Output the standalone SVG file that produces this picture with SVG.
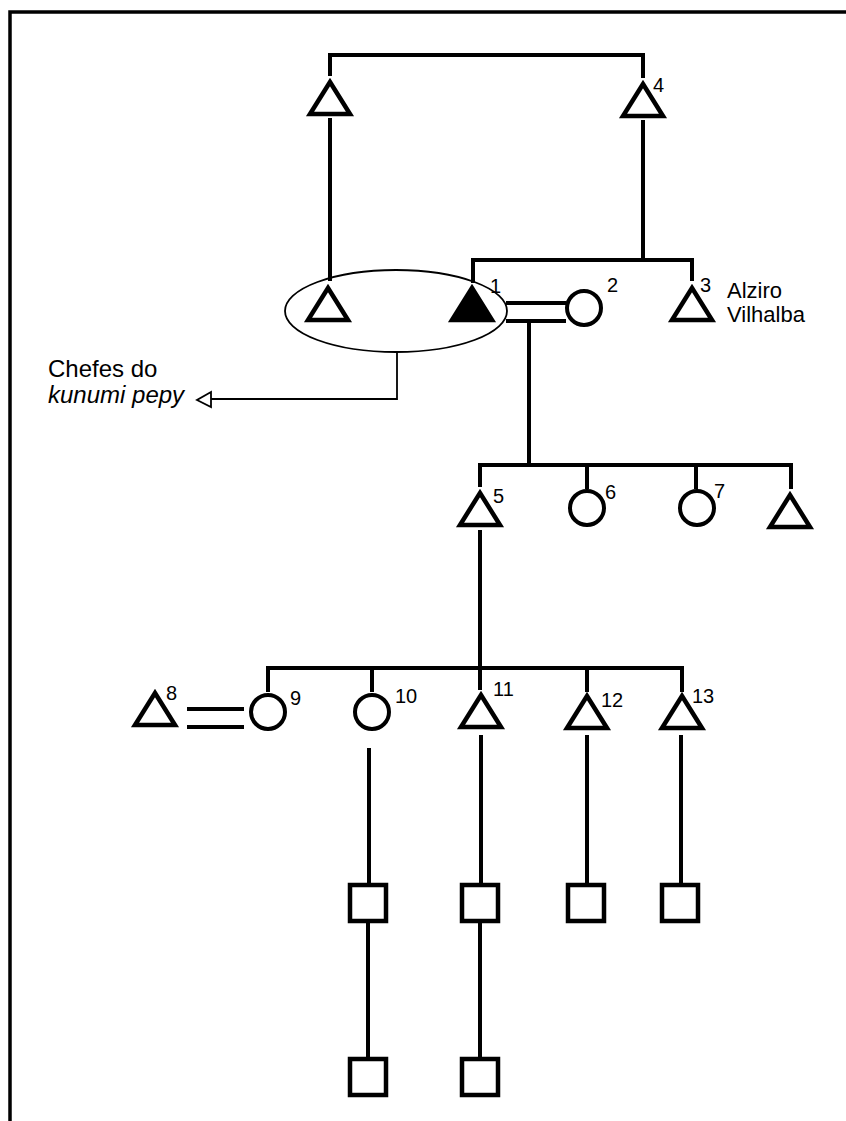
<svg xmlns="http://www.w3.org/2000/svg" width="846" height="1121" viewBox="0 0 846 1121">
<defs>
<style>
.ln{stroke:#000;stroke-width:4;fill:none}
.thin{stroke:#000;stroke-width:1.8;fill:none}
.tri{stroke:#000;stroke-width:4.5;fill:#fff;stroke-linejoin:miter}
.ftri{stroke:#000;stroke-width:4.5;fill:#000;stroke-linejoin:miter}
.cir{stroke:#000;stroke-width:4;fill:#fff}
.sq{stroke:#000;stroke-width:4.5;fill:#fff}
.num{font-family:"Liberation Sans",Arial,sans-serif;font-size:20px;fill:#000}
.lbl{font-family:"Liberation Sans",Arial,sans-serif;font-size:22px;fill:#000}
.lbl2{font-family:"Liberation Sans",Arial,sans-serif;font-size:24px;fill:#000}
</style>
<path id="t" d="M0,-18 L20,14 L-20,14 Z"/>
</defs>
<rect width="846" height="1121" fill="#fff"/>
<path d="M10,1121 V12 H846" stroke="#000" stroke-width="3.5" fill="none"/>
<g id="connectors">
<path class="ln" d="M330,76 V55 H643 V78"/>
<path class="ln" d="M330,118 V281"/>
<path class="ln" d="M643,120 V260"/>
<path class="ln" d="M473,283 V260 H692 V281"/>
<path class="ln" d="M506,303 H566 M506,321 H566"/>
<path class="ln" d="M529,321 V465"/>
<path class="ln" d="M480,487 V465 H791 V489 M587,465 V489 M696,465 V489"/>
<path class="ln" d="M480,530 V690"/>
<path class="ln" d="M268,692 V668 H682 V692 M372,668 V692 M587,668 V692"/>
<path class="ln" d="M187,709 H244 M187,727 H244"/>
<path class="ln" d="M369,748 V885 M481,735 V885 M587,735 V885 M681,735 V885"/>
<path class="ln" d="M368,921 V1059 M480,921 V1059"/>
<path class="thin" d="M397,352 V399 H211"/>
<polygon class="thin" stroke-width="2" points="211,392 197,400 211,407"/>
</g>
<g id="group-chiefs">
<ellipse class="thin" cx="396" cy="311" rx="111" ry="41"/>
</g>
<g id="n-top-left"><use href="#t" class="tri" x="330" y="100"/></g>
<g id="n4"><use href="#t" class="tri" x="643" y="102"/><text class="num" x="653" y="92">4</text></g>
<g id="n-chief"><use href="#t" class="tri" x="328" y="306"/></g>
<g id="n1"><use href="#t" class="ftri" x="472" y="306"/><text class="num" x="490" y="293">1</text></g>
<g id="n2"><circle class="cir" cx="584" cy="308" r="17"/><text class="num" x="607" y="292">2</text></g>
<g id="n3"><use href="#t" class="tri" x="692" y="306"/><text class="num" x="700" y="292">3</text>
<text class="lbl" x="727" y="298">Alziro</text><text class="lbl" x="727" y="322">Vilhalba</text></g>
<g id="label-chefes"><text class="lbl2" x="48" y="377">Chefes do</text><text class="lbl2" x="48" y="403" font-style="italic">kunumi pepy</text></g>
<g id="n5"><use href="#t" class="tri" x="480" y="511"/><text class="num" x="493" y="503">5</text></g>
<g id="n6"><circle class="cir" cx="587" cy="508" r="17"/><text class="num" x="605" y="499">6</text></g>
<g id="n7"><circle class="cir" cx="697" cy="508" r="17"/><text class="num" x="714" y="498">7</text></g>
<g id="n-right"><use href="#t" class="tri" x="790" y="513"/></g>
<g id="n8"><use href="#t" class="tri" x="155" y="711"/><text class="num" x="166" y="700">8</text></g>
<g id="n9"><circle class="cir" cx="268" cy="712" r="17"/><text class="num" x="290" y="705">9</text></g>
<g id="n10"><circle class="cir" cx="372" cy="712" r="17"/><text class="num" x="395" y="703">10</text></g>
<g id="n11"><use href="#t" class="tri" x="481" y="713"/><text class="num" x="493" y="696">11</text></g>
<g id="n12"><use href="#t" class="tri" x="587" y="714"/><text class="num" x="601" y="707">12</text></g>
<g id="n13"><use href="#t" class="tri" x="682" y="714"/><text class="num" x="692" y="703">13</text></g>
<g id="s1"><rect class="sq" x="350" y="885" width="36" height="36"/></g>
<g id="s2"><rect class="sq" x="462" y="885" width="36" height="36"/></g>
<g id="s3"><rect class="sq" x="568" y="885" width="36" height="36"/></g>
<g id="s4"><rect class="sq" x="662" y="885" width="36" height="36"/></g>
<g id="s5"><rect class="sq" x="350" y="1059" width="36" height="36"/></g>
<g id="s6"><rect class="sq" x="462" y="1059" width="36" height="36"/></g>
</svg>
